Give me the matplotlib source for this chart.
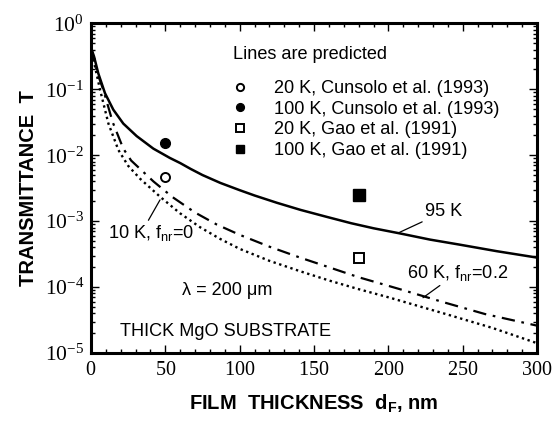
import matplotlib
matplotlib.use("Agg")
import matplotlib.pyplot as plt
from matplotlib.ticker import FixedLocator, LogLocator, MultipleLocator, NullFormatter
import numpy as np

# fonts: sans text like Helvetica, serif tick numbers like Times
plt.rcParams['font.family'] = ['Liberation Sans', 'DejaVu Sans']
plt.rcParams['mathtext.fontset'] = 'custom'
plt.rcParams['mathtext.rm'] = 'Liberation Serif'
plt.rcParams['mathtext.sf'] = 'Liberation Sans'
plt.rcParams['mathtext.bf'] = 'Liberation Sans:bold'

# curves (film thickness nm, transmittance)
d_95k = [0, 2, 4.9, 9.4, 15, 21.7, 30.7, 41.9, 53, 60, 67, 75, 87, 100, 110, 125,
         141, 158, 175, 190, 208, 228, 248, 273, 300]
t_95k = [0.427, 0.316, 0.174, 0.0871, 0.049, 0.0302, 0.0195, 0.0126, 9.1e-3, 7.6e-3,
         6.2e-3, 5.0e-3, 3.8e-3, 2.95e-3, 2.45e-3, 1.9e-3, 1.48e-3, 1.17e-3, 9.3e-4,
         7.8e-4, 6.5e-4, 5.25e-4, 4.4e-4, 3.5e-4, 2.8e-4]

d_60k = [0, 2.5, 5, 8.3, 14.6, 21.7, 27, 33, 42, 55, 70, 84.5, 100, 120, 140.6, 160,
         180, 207.7, 237, 265, 300]
t_60k = [0.427, 0.251, 0.158, 0.0977, 0.0316, 0.0126, 8.3e-3, 6.2e-3, 4.0e-3, 2.3e-3,
         1.35e-3, 8.9e-4, 6.2e-4, 4.1e-4, 2.8e-4, 2.0e-4, 1.41e-4, 9.3e-5, 5.9e-5,
         3.9e-5, 2.6e-5]

d_10k = [0, 2.5, 6.1, 11.7, 18.4, 25, 33, 46.4, 59.8, 73.3, 86.7, 100, 120, 140.6,
         160, 180, 201, 237, 270, 300]
t_10k = [0.427, 0.229, 0.0977, 0.0302, 0.012, 6.9e-3, 4.4e-3, 2.35e-3, 1.32e-3,
         8.1e-4, 5.4e-4, 3.8e-4, 2.5e-4, 1.74e-4, 1.26e-4, 9.3e-5, 6.9e-5, 4.0e-5,
         2.4e-5, 1.41e-5]

# measured points
cun_d = [50, 50]
cun_t = [4.7e-3, 1.55e-2]   # 20 K, 100 K
gao_d = [180, 180]
gao_t = [2.8e-4, 2.5e-3]    # 20 K, 100 K

fig = plt.figure(figsize=(5.52, 4.21), dpi=100)
ax = fig.add_axes([0.1649, 0.1615, 0.808, 0.783])

ax.plot(d_95k, t_95k, color='black', lw=1.8)
ax.plot(d_60k, t_60k, color='black', lw=1.6, linestyle=(0, (6, 3, 1.2, 3)))
ax.plot(d_10k, t_10k, color='black', lw=1.7, linestyle=(0, (1.0, 1.5)))

ax.plot(cun_d[0], cun_t[0], 'o', ms=6.5, mfc='white', mec='black', mew=1.4,
        label='20 K, Cunsolo et al. (1993)')
ax.plot(cun_d[1], cun_t[1], 'o', ms=7, mfc='black', mec='black',
        label='100 K, Cunsolo et al. (1993)')
ax.plot(gao_d[0], gao_t[0], 's', ms=7.5, mfc='white', mec='black', mew=1.4,
        label='20 K, Gao et al. (1991)')
ax.plot(gao_d[1], gao_t[1], 's', ms=8, mfc='black', mec='black',
        label='100 K, Gao et al. (1991)')

ax.set_yscale('log')
ax.set_xlim(0, 300)
ax.set_ylim(1e-5, 1)

ax.xaxis.set_major_locator(MultipleLocator(50))
ax.xaxis.set_minor_locator(MultipleLocator(10))
ax.yaxis.set_major_locator(FixedLocator([1e-5, 1e-4, 1e-3, 1e-2, 1e-1, 1]))
ax.yaxis.set_minor_locator(LogLocator(base=10, subs=np.arange(2, 10)))
ax.yaxis.set_minor_formatter(NullFormatter())
ax.set_yticklabels([r'$\mathrm{10^{-5}}$', r'$\mathrm{10^{-4}}$', r'$\mathrm{10^{-3}}$',
                    r'$\mathrm{10^{-2}}$', r'$\mathrm{10^{-1}}$', r'$\mathrm{10^{0}}$'])
ax.set_xticks([0, 50, 100, 150, 200, 250, 300])
ax.set_xticklabels([r'$\mathrm{%d}$' % v for v in [0, 50, 100, 150, 200, 250, 300]])

ax.tick_params(which='both', direction='in', top=True, right=True,
               width=1.0, color='black')
ax.tick_params(axis='y', labelsize=15.5)
ax.tick_params(axis='x', labelsize=14.5)
ax.tick_params(which='major', length=6, pad=5)
ax.tick_params(which='minor', length=3)
for sp in ax.spines.values():
    sp.set_linewidth(2.2)

ax.set_xlabel(r'FILM  THICKNESS  d$_\mathbf{F}$, nm', fontsize=14.5, fontweight='bold',
              labelpad=10)
ax.set_ylabel('TRANSMITTANCE  T', fontsize=14.5, fontweight='bold', labelpad=5)

fs = 13.1
ax.text(0.318, 0.906, 'Lines are predicted', transform=ax.transAxes, fontsize=fs,
        va='center', ha='left')
leg = ax.legend(loc='upper left', bbox_to_anchor=(0.322, 0.828), frameon=False,
                fontsize=fs, handlelength=0.6, handletextpad=1.55,
                labelspacing=0.2, markerscale=0.8, borderaxespad=0, borderpad=0)

# curve labels with leader lines
lp = dict(arrowstyle='-', color='black', lw=0.9, shrinkA=0, shrinkB=0)
ax.annotate('95 K', xy=(206.5, 6.6e-4), xytext=(224.6, 1.38e-3), fontsize=fs,
            va='center', ha='left', arrowprops=lp)
ax.annotate('60 K, f$_\\mathsf{nr}$=0.2', xy=(223.3, 6.9e-5), xytext=(212.5, 1.65e-4),
            fontsize=fs, va='center', ha='left', arrowprops=lp)
ax.annotate('10 K, f$_\\mathsf{nr}$=0', xy=(46.4, 2.1e-3), xytext=(11.4, 6.6e-4),
            fontsize=fs, va='center', ha='left',
            arrowprops=dict(lp, relpos=(0.45, 1.0)))
ax.text(0.204, 0.191, 'λ = 200 μm', transform=ax.transAxes, fontsize=fs,
        va='center', ha='left')
ax.text(0.065, 0.064, 'THICK MgO SUBSTRATE', transform=ax.transAxes, fontsize=fs,
        va='center', ha='left')

fig.savefig('out.png', dpi=100)
